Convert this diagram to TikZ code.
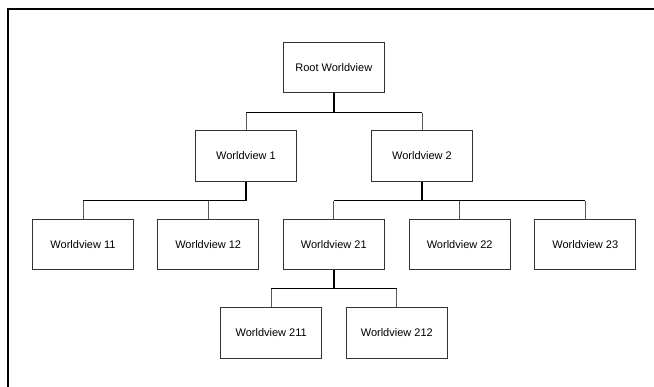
\documentclass[tikz,border=0pt]{standalone}
\usepackage{fontspec}
\setmainfont{Liberation Sans}
\begin{document}
\begin{tikzpicture}[x=1pt,y=-1pt,
  wv/.style={draw=black!80, line width=0.8pt, minimum width=101pt, minimum height=50.5pt,
    inner sep=0pt, font=\fontsize{11}{13}\selectfont, fill=white},
  stem/.style={line width=2pt, black},
  bar/.style={line width=1pt, black},
  drop/.style={line width=1pt, black!65}]
\useasboundingbox (0,0) rectangle (654,387);
\draw[line width=2pt] (8,387) -- (8,9) -- (654,9);

\node[wv] (root) at (333.8,67.5) {Root Worldview};
\node[wv] (w1) at (246,156) {Worldview 1};
\node[wv] (w2) at (422,156) {Worldview 2};
\node[wv] (w11) at (83,244.5) {Worldview 11};
\node[wv] (w12) at (208.2,244.5) {Worldview 12};
\node[wv] (w21) at (333.8,244.5) {Worldview 21};
\node[wv] (w22) at (459.7,244.5) {Worldview 22};
\node[wv] (w23) at (585.3,244.5) {Worldview 23};
\node[wv] (w211) at (271.2,332.7) {Worldview 211};
\node[wv] (w212) at (396.8,332.7) {Worldview 212};

% root -> 1, 2
\draw[stem] (root.south) -- ++(0,19.5) coordinate (r0);
\draw[bar] (w1.north |- r0) -- (w2.north |- r0);
\draw[drop] (w1.north) -- (w1.north |- r0);
\draw[drop] (w2.north) -- (w2.north |- r0);

% 1 -> 11, 12
\draw[stem] (w1.south) -- ++(0,19) coordinate (a0);
\draw[bar] (w11.north |- a0) -- (w1.south |- a0);
\draw[drop] (w11.north) -- (w11.north |- a0);
\draw[drop] (w12.north) -- (w12.north |- a0);

% 2 -> 21, 22, 23
\draw[stem] (w2.south) -- ++(0,19) coordinate (b0);
\draw[bar] (w21.north |- b0) -- (w23.north |- b0);
\draw[drop] (w21.north) -- (w21.north |- b0);
\draw[drop] (w22.north) -- (w22.north |- b0);
\draw[drop] (w23.north) -- (w23.north |- b0);

% 21 -> 211, 212
\draw[stem] (w21.south) -- ++(0,18.8) coordinate (c0);
\draw[bar] (w211.north |- c0) -- (w212.north |- c0);
\draw[drop] (w211.north) -- (w211.north |- c0);
\draw[drop] (w212.north) -- (w212.north |- c0);
\end{tikzpicture}
\end{document}
